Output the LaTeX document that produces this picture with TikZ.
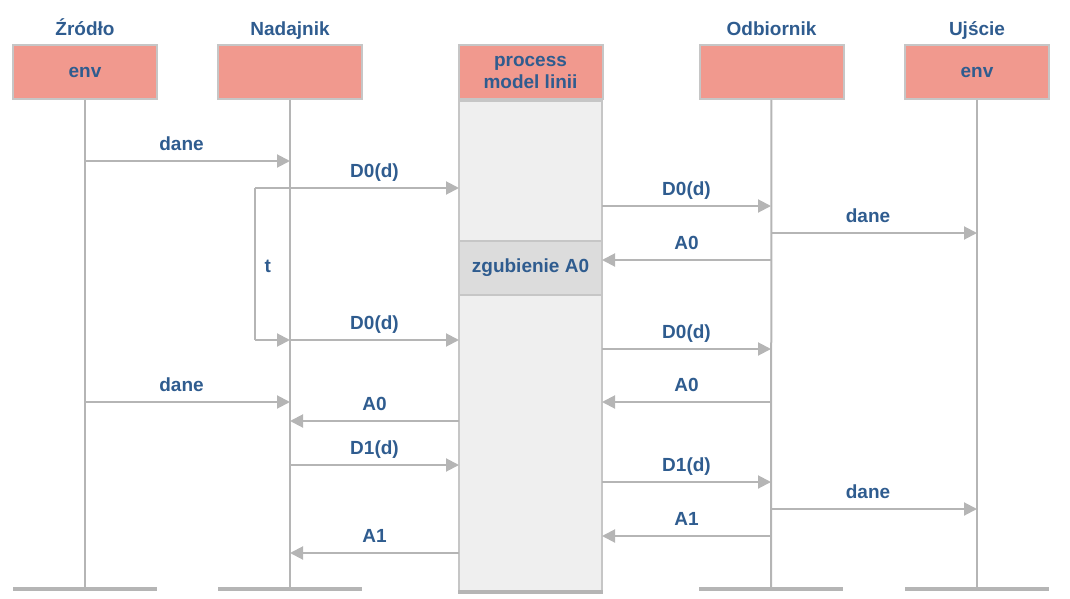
\documentclass[tikz,border=0pt]{standalone}
\usepackage{fontspec}
\setmainfont{Liberation Sans}
\usetikzlibrary{arrows.meta,positioning}
\definecolor{ink}{HTML}{2F5C8F}
\definecolor{salmon}{HTML}{F1998E}
\definecolor{edge}{HTML}{C6C6C6}
\definecolor{wire}{HTML}{B5B5B5}
\definecolor{pale}{HTML}{EFEFEF}
\definecolor{lostgray}{HTML}{DCDCDC}

\begin{document}
\begin{tikzpicture}[x=0.5pt,y=-0.5pt,>={Triangle[length=6.5pt,width=6.5pt]},
  font=\bfseries\fontsize{9.5}{11}\selectfont,
  actor/.style={draw=edge,fill=salmon,line width=1pt,minimum width=72pt,minimum height=27pt,inner sep=0pt,text=ink},
  title/.style={text=ink,text height=7pt,text depth=2pt},
  life/.style={draw=wire,line width=1pt},
  foot/.style={draw=wire,line width=1.8pt},
  msg/.style={->,draw=wire,line width=1pt},
  lbl/.style={midway,above=-0.5pt,text=ink,text height=7pt,text depth=2pt}]
\useasboundingbox (0,0) rectangle (1070,599);

% actors
\node[actor] (zr) at (85,72) {env};
\node[actor] (nd) at (290,72) {};
\node[actor,align=center] (pm) at (530.5,72) {process\\model linii};
\node[actor] (od) at (771.5,72) {};
\node[actor] (uj) at (977,72) {env};
\node[title,above=-1.2pt of zr] (zr-t) {Źródło};
\node[title,above=-1.2pt of nd] (nd-t) {Nadajnik};
\node[title,above=-1.2pt of od] (od-t) {Odbiornik};
\node[title,above=-1.2pt of uj] (uj-t) {Ujście};

% the line process
\node[draw=edge,fill=pale,line width=1pt,minimum width=71.5pt,minimum height=245pt,inner sep=0pt,below=0pt of pm] (col) {};
\node[draw=edge,fill=lostgray,line width=1pt,minimum width=71.5pt,minimum height=27pt,inner sep=0pt,text=ink] (lost) at (530.5,268) {zgubienie A0};
\draw[foot] (col.south west) -- (col.south east);

% lifelines
\foreach \l/\x in {zr/85,nd/290,od/771,uj/977}{
  \coordinate (\l-b) at (\x,589);
  \draw[life] (\l) -- (\l-b);
  \draw[foot] ([xshift=-36pt]\l-b) -- ([xshift=36pt]\l-b);
}

% message rows
\foreach \r/\y in {1/161,2/188,3/206,4/233,5/260,6/340,7/349,8/402,9/421,10/465,11/482,12/509,13/536,14/553}
  \foreach \l/\x in {zr/85,nd/290,pl/459,pr/602,od/771,uj/977}
    \coordinate (\l\r) at (\x,\y);
\coordinate (tl2) at (255,188);
\coordinate (tl6) at (255,340);

\draw[msg] (zr1) -- node[lbl,xshift=-3pt] {dane} (nd1);
\draw[msg] (tl2) -- (pl2);
\path (nd2) -- node[lbl] {D0(d)} (pl2);
\draw[life] (tl2) -- node[midway,right=1pt,yshift=-1pt,text=ink] (t) {t} (tl6);
\draw[msg] (pr3) -- node[lbl] {D0(d)} (od3);
\draw[msg] (od4) -- node[lbl,xshift=-3pt] {dane} (uj4);
\draw[msg] (od5) -- node[lbl] {A0} (pr5);
\draw[msg] (tl6) -- (nd6);
\draw[msg] (nd6) -- node[lbl] {D0(d)} (pl6);
\draw[msg] (pr7) -- node[lbl] {D0(d)} (od7);
\draw[msg] (zr8) -- node[lbl,xshift=-3pt] {dane} (nd8);
\draw[msg] (od8) -- node[lbl] {A0} (pr8);
\draw[msg] (pl9) -- node[lbl] {A0} (nd9);
\draw[msg] (nd10) -- node[lbl] {D1(d)} (pl10);
\draw[msg] (pr11) -- node[lbl] {D1(d)} (od11);
\draw[msg] (od12) -- node[lbl,xshift=-3pt] {dane} (uj12);
\draw[msg] (od13) -- node[lbl] {A1} (pr13);
\draw[msg] (pl14) -- node[lbl] {A1} (nd14);
\end{tikzpicture}
\end{document}
